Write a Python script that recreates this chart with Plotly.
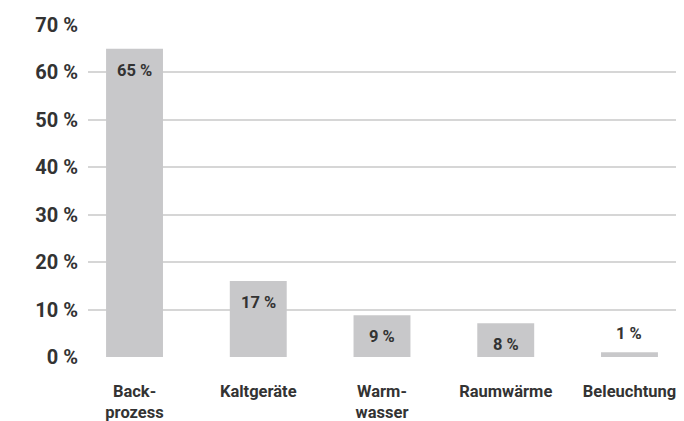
import plotly.graph_objects as go

categories = ["Back-<br>prozess", "Kaltgeräte", "Warm-<br>wasser", "Raumwärme", "Beleuchtung"]
values = [65, 16, 8.8, 7.1, 1]
value_labels = ["65 %", "17 %", "9 %", "8 %", "1 %"]
y_ticks = [0, 10, 20, 30, 40, 50, 60, 70]
y_tick_labels = ["0 %", "10 %", "20 %", "30 %", "40 %", "50 %", "60 %", "70 %"]

FONT = "Roboto"
TXT = "#333333"

fig = go.Figure()
fig.add_trace(go.Bar(
    x=list(range(len(categories))),
    y=values,
    marker=dict(color="#c8c8ca", line=dict(width=0)),
    width=0.46,
    hoverinfo="skip",
))

annotations = []
for i, (v, lab) in enumerate(zip(values, value_labels)):
    inside = v >= 5
    annotations.append(dict(
        x=i, y=v, xref="x", yref="y", text=lab, showarrow=False,
        yanchor="top" if inside else "bottom",
        yshift=-10 if inside else 7,
        font=dict(family=FONT, size=16.5, color=TXT, weight="bold"),
    ))

fig.update_layout(
    width=684, height=421,
    margin=dict(l=88, r=8, t=25, b=64, autoexpand=False),
    paper_bgcolor="white", plot_bgcolor="white",
    showlegend=False,
    annotations=annotations,
    xaxis=dict(
        range=[-0.376, 4.376],
        tickmode="array", tickvals=list(range(len(categories))), ticktext=categories,
        showgrid=False, zeroline=False, showline=False,
        ticks="outside", ticklen=19, tickcolor="rgba(0,0,0,0)",
        tickfont=dict(family=FONT, size=16.5, color=TXT, weight="bold"),
        automargin=False,
        fixedrange=True,
    ),
    yaxis=dict(
        range=[0, 70],
        tickmode="array", tickvals=y_ticks, ticktext=y_tick_labels,
        showgrid=True, gridcolor="#d6d6d6", gridwidth=1.5,
        zeroline=False, showline=False,
        ticks="outside", ticklen=5, tickcolor="rgba(0,0,0,0)",
        tickfont=dict(family=FONT, size=20, color=TXT, weight="bold"),
        automargin=False,
        fixedrange=True,
    ),
)

fig.write_html(
    "out.html",
    config={"displayModeBar": False},
    post_script="document.body.style.margin='0';document.body.style.overflow='hidden';",
)
